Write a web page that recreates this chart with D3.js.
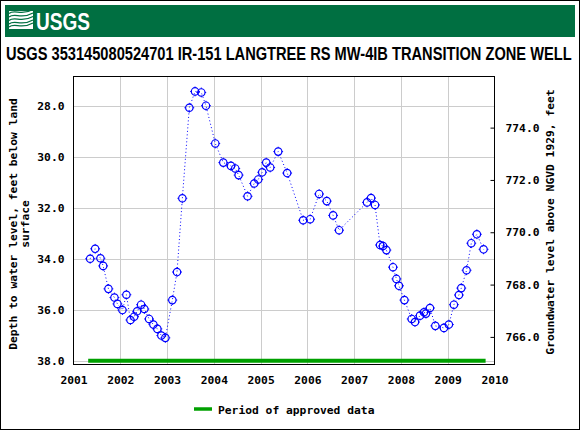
<!DOCTYPE html>
<html><head><meta charset="utf-8">
<script src="https://cdn.jsdelivr.net/npm/d3@7"></script>
<style>html,body{margin:0;padding:0;background:#fff}svg{display:block}</style>
</head><body>
<svg id="c" width="580" height="430"></svg>
<script>
const title = "USGS 353145080524701 IR-151 LANGTREE RS MW-4IB TRANSITION ZONE WELL";
const leftTitle = ["Depth to water level, feet below land", "surface"];
const rightTitle = "Groundwater level above NGVD 1929, feet";
const legendLabel = "Period of approved data";
const yearTicks = [2001, 2002, 2003, 2004, 2005, 2006, 2007, 2008, 2009, 2010];
const depthTicks = [28, 30, 32, 34, 36, 38];
const elevTicks = [766, 768, 770, 772, 774];
const approvedPeriod = [2001.314, 2009.81];
const approvedDepth = 38.0;
const years = [2001.356, 2001.463, 2001.576, 2001.634, 2001.747, 2001.875, 2001.939, 2002.046, 2002.131, 2002.217,
  2002.296, 2002.360, 2002.445, 2002.515, 2002.616, 2002.708, 2002.793, 2002.878, 2002.964, 2003.113,
  2003.213, 2003.327, 2003.476, 2003.598, 2003.732, 2003.832, 2004.031, 2004.202, 2004.366, 2004.458,
  2004.530, 2004.722, 2004.863, 2004.949, 2005.034, 2005.120, 2005.205, 2005.376, 2005.568, 2005.909,
  2006.059, 2006.251, 2006.415, 2006.550, 2006.678, 2007.275, 2007.361, 2007.446, 2007.553, 2007.617,
  2007.689, 2007.830, 2007.903, 2007.958, 2008.074, 2008.230, 2008.300, 2008.407, 2008.492, 2008.535,
  2008.620, 2008.735, 2008.919, 2009.025, 2009.132, 2009.239, 2009.290, 2009.403, 2009.504, 2009.623,
  2009.766];
const depths = [34.00, 33.61, 33.98, 34.28, 35.18, 35.52, 35.77, 36.01, 35.41, 36.40,
  36.27, 36.06, 35.80, 35.97, 36.36, 36.58, 36.75, 37.01, 37.10, 35.62,
  34.52, 31.63, 28.08, 27.44, 27.48, 28.00, 29.48, 30.23, 30.36, 30.46,
  30.72, 31.55, 31.05, 30.89, 30.61, 30.23, 30.42, 29.80, 30.64, 32.49,
  32.45, 31.46, 31.74, 32.30, 32.88, 31.79, 31.62, 31.89, 33.46, 33.50,
  33.66, 34.33, 34.79, 35.06, 35.62, 36.36, 36.48, 36.23, 36.10, 36.15,
  35.93, 36.63, 36.71, 36.58, 35.80, 35.42, 35.15, 34.45, 33.39, 33.04,
  33.63];

const svg = d3.select("#c");
const L = 73.5, R = 494.5, T = 76.5, B = 364.5;
const mono = "'DejaVu Sans Mono', monospace";
const green = "#00a000";

const x = d3.scaleLinear().domain([2001, 2010]).range([L, R]);
const y = d3.scaleLinear().domain([26.855, 38.145]).range([T, B]);
const y2 = d3.scaleLinear().domain([764.945, 775.954]).range([B, T]);

// outer border
svg.append("rect").attr("x", 0.5).attr("y", 0.5).attr("width", 579).attr("height", 429)
  .attr("fill", "#fff").attr("stroke", "#000").attr("stroke-width", 1);

// header band
svg.append("rect").attr("x", 5).attr("y", 5).attr("width", 570).attr("height", 32).attr("fill", "#006F41");
// logo icon
const icon = svg.append("g").attr("fill", "none").attr("stroke", "#fff");
icon.append("rect").attr("x", 9).attr("y", 11).attr("width", 24).attr("height", 18).attr("fill", "#fff").attr("stroke", "none");
[13.5, 17, 20.5, 24, 27].forEach((yy, i) => {
  icon.append("path").attr("d", `M9,${yy} C15,${yy - 5} 21,${yy + 3} 33,${yy - 4}`)
    .attr("stroke", "#006F41").attr("stroke-width", 1.3);
});
const logo = svg.append("text").text("USGS")
  .attr("font-family", "'Liberation Sans', Arial, sans-serif")
  .attr("font-weight", "bold").attr("font-size", 24.5).attr("fill", "#fff");
const lw = logo.node().getComputedTextLength();
logo.attr("transform", `translate(36,29.5) scale(${54 / lw},1)`);

// title (condensed via horizontal scale)
const tt = svg.append("text").text(title)
  .attr("font-family", "'Liberation Sans', Arial, sans-serif").attr("font-weight", "bold")
  .attr("font-size", 18.5).attr("fill", "#000");
const tw = tt.node().getComputedTextLength();
tt.attr("transform", `translate(6,59.5) scale(${566 / tw},1)`);

// grid
const grid = svg.append("g").attr("stroke", "#cccccc").attr("stroke-width", 1);
yearTicks.slice(1, -1).forEach(t => grid.append("line")
  .attr("x1", Math.round(x(t)) + 0.5).attr("x2", Math.round(x(t)) + 0.5).attr("y1", T).attr("y2", B));
depthTicks.forEach(t => grid.append("line")
  .attr("x1", L).attr("x2", R).attr("y1", Math.round(y(t)) + 0.5).attr("y2", Math.round(y(t)) + 0.5));

// approved period bar
svg.append("line").attr("x1", x(approvedPeriod[0])).attr("x2", x(approvedPeriod[1]))
  .attr("y1", y(approvedDepth)).attr("y2", y(approvedDepth))
  .attr("stroke", green).attr("stroke-width", 4);

// data line
const pts = years.map((yr, i) => [yr, depths[i]]);
svg.append("path").datum(pts)
  .attr("d", d3.line().x(d => x(d[0])).y(d => y(d[1])))
  .attr("fill", "none").attr("stroke", "#0000ff").attr("stroke-width", 1).attr("stroke-dasharray", "1,2.5");

// points
const pg = svg.append("g");
pts.forEach(d => {
  const cx = x(d[0]), cy = y(d[1]);
  pg.append("circle").attr("cx", cx).attr("cy", cy).attr("r", 3.7)
    .attr("fill", "none").attr("stroke", "#0000ff").attr("stroke-width", 1.2);
  pg.append("path").attr("d", `M${cx},${cy - 4.9}V${cy - 3.7}M${cx},${cy + 3.7}V${cy + 4.9}M${cx - 4.9},${cy}H${cx - 3.7}M${cx + 3.7},${cy}H${cx + 4.9}`)
    .attr("stroke", "#0000ff").attr("stroke-width", 1);
});

// frame
svg.append("rect").attr("x", L).attr("y", T).attr("width", R - L).attr("height", B - T)
  .attr("fill", "none").attr("stroke", "#000").attr("stroke-width", 1);

// axes
const axL = d3.axisLeft(y).tickValues(depthTicks).tickFormat(d3.format(".1f")).tickSize(0).tickPadding(9);
const gL = svg.append("g").attr("transform", `translate(${L},0)`).call(axL);
const axB = d3.axisBottom(x).tickValues(yearTicks).tickFormat(d3.format("d")).tickSize(0).tickPadding(11);
const gB = svg.append("g").attr("transform", `translate(0,${B})`).call(axB);
const axR = d3.axisRight(y2).tickValues(elevTicks).tickFormat(d3.format(".1f")).tickSizeInner(-4).tickSizeOuter(0).tickPadding(11);
const gR = svg.append("g").attr("transform", `translate(${R},0)`).call(axR);
[gL, gB, gR].forEach(g => {
  g.select(".domain").remove();
  g.selectAll("text").attr("font-family", mono).attr("font-weight", "bold").attr("font-size", 11.3).attr("fill", "#000");
  g.selectAll("line").attr("stroke", "#000");
});

// axis titles
const lt = svg.append("text").attr("transform", "translate(0,224) rotate(-90)")
  .attr("text-anchor", "middle").attr("font-family", mono).attr("font-weight", "bold").attr("font-size", 11.3);
lt.append("tspan").attr("x", 0).attr("y", 17).text(leftTitle[0]);
lt.append("tspan").attr("x", 0).attr("y", 29).text(leftTitle[1]);
svg.append("text").attr("transform", "translate(554,222) rotate(-90)")
  .attr("text-anchor", "middle").attr("font-family", mono).attr("font-weight", "bold").attr("font-size", 11.3)
  .text(rightTitle);

// legend
svg.append("line").attr("x1", 194).attr("x2", 212).attr("y1", 409).attr("y2", 409)
  .attr("stroke", green).attr("stroke-width", 3.5);
svg.append("text").attr("x", 218).attr("y", 413.5).text(legendLabel)
  .attr("font-family", mono).attr("font-weight", "bold").attr("font-size", 11.3);
</script>
</body></html>
